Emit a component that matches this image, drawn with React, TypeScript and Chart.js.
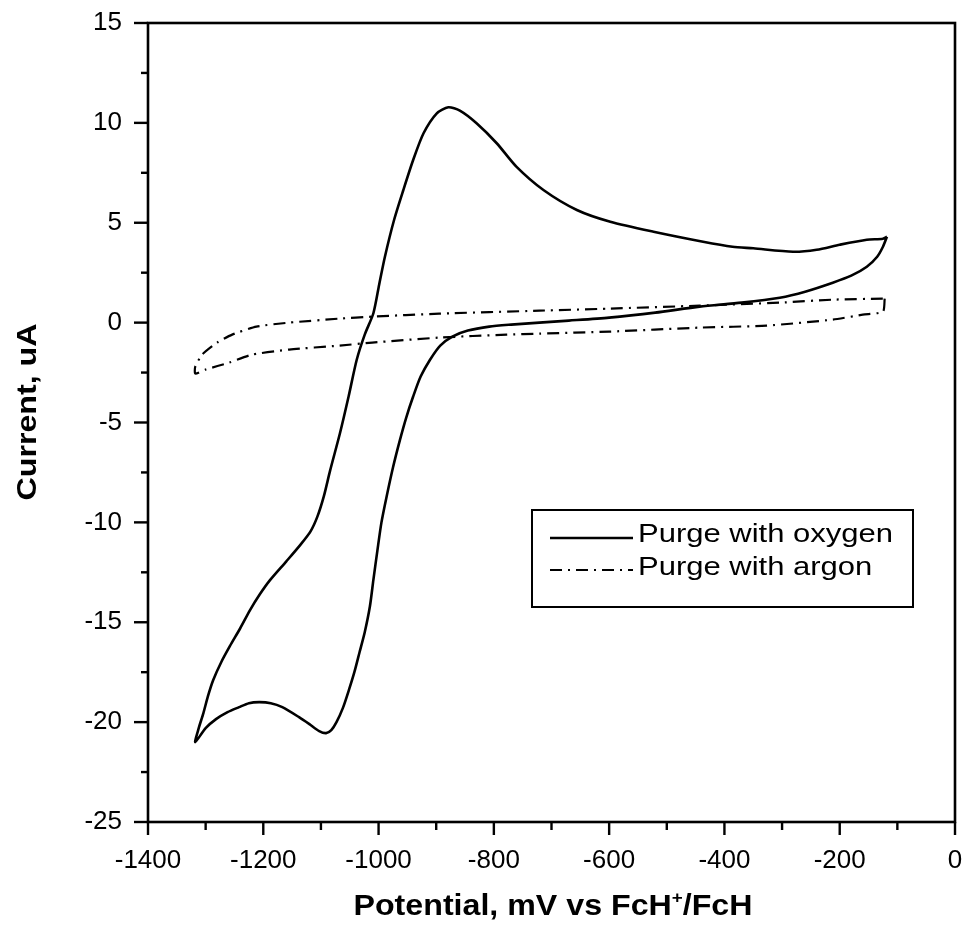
import React, { useEffect, useRef } from "react";
import { Chart, registerables } from "chart.js";

Chart.register(...registerables);

// ---- Data ----
const oxygenPotential = [
  -118, -125, -135, -153, -180, -212, -260, -304, -370, -443, -520, -600, -670, -721, -770, -808,
  -845, -872, -893, -911, -927, -940, -952, -963, -975, -986, -995, -1002, -1009, -1015, -1024,
  -1033, -1042, -1051, -1062, -1073, -1082, -1091, -1103, -1120, -1138, -1167, -1187, -1207,
  -1225, -1242, -1262, -1282, -1300, -1318,
  -1312, -1304, -1296, -1287, -1273, -1258, -1240, -1223, -1206, -1188, -1160, -1135, -1118,
  -1106, -1095, -1084, -1067, -1052, -1038, -1024, -1009, -999, -989, -973, -957, -940, -922,
  -899, -879, -859, -830, -795, -761, -714, -656, -598, -523, -437, -386, -350, -281, -240,
  -200, -153, -125, -118,
];
const oxygenCurrent = [
  4.3, 3.8, 3.3, 2.8, 2.35, 2.0, 1.55, 1.25, 1.0, 0.8, 0.5, 0.25, 0.1, 0.0, -0.1, -0.2,
  -0.4, -0.7, -1.15, -1.87, -2.7, -3.7, -4.75, -5.88, -7.25, -8.7, -10.0, -11.4, -12.88, -14.2, -15.5,
  -16.5, -17.5, -18.35, -19.3, -20.0, -20.4, -20.55, -20.45, -20.1, -19.75, -19.25, -19.05, -19.0,
  -19.05, -19.25, -19.5, -19.85, -20.3, -21.0,
  -20.3, -19.56, -18.7, -17.9, -17.0, -16.2, -15.3, -14.39, -13.6, -12.88, -11.95, -11.1, -10.45,
  -9.7, -8.7, -7.4, -5.54, -3.7, -1.87, -0.6, 0.47, 1.9, 3.3, 5.15, 6.64, 8.14, 9.48,
  10.48, 10.78, 10.61, 9.98, 8.98, 7.81, 6.64, 5.64, 5.05, 4.55, 4.05, 3.8, 3.72, 3.55, 3.65,
  3.9, 4.15, 4.2, 4.3,
];

const argonPotential = [
  -122, -125, -160, -212, -327, -443, -600, -721, -778, -895, -1011, -1068, -1155, -1219, -1259,
  -1300, -1318, -1318, -1306, -1280, -1254, -1212, -1155, -1068, -1011, -895, -721, -600, -443,
  -304, -212, -125,
];
const argonCurrent = [
  1.2, 0.55, 0.4, 0.15, -0.15, -0.25, -0.45, -0.55, -0.6, -0.75, -1.0, -1.15, -1.35, -1.6, -2.0,
  -2.35, -2.55, -2.2, -1.6, -1.0, -0.6, -0.2, 0.0, 0.2, 0.3, 0.45, 0.6, 0.7, 0.85,
  1.0, 1.15, 1.2,
];

const xTicks = [-1400, -1200, -1000, -800, -600, -400, -200, 0];
const yTicks = [-25, -20, -15, -10, -5, 0, 5, 10, 15];
const xMinorStep = 100;
const yMinorStep = 2.5;

const seriesLabels = ["Purge with oxygen", "Purge with argon"];
const xTitleMain = "Potential, mV vs FcH";
const xTitleSup = "+";
const xTitleTail = "/FcH";
const yTitle = "Current, uA";

const FONT = '"Liberation Sans", Arial, Helvetica, sans-serif';

const decorPlugin = {
  id: "decor",
  afterDraw(chart: any) {
    const { ctx, chartArea: a, scales } = chart;
    const xs = scales.x;
    const ys = scales.y;
    ctx.save();
    ctx.strokeStyle = "#000";
    ctx.fillStyle = "#000";
    ctx.setLineDash([]);

    // frame
    ctx.lineWidth = 2.6;
    ctx.strokeRect(a.left, a.top, a.right - a.left, a.bottom - a.top);

    // ticks (major + minor), outside
    ctx.lineWidth = 2.4;
    const xMin = xs.min, xMax = xs.max;
    for (let v = xMin; v <= xMax + 1e-6; v += xMinorStep) {
      const px = xs.getPixelForValue(v);
      const major = xTicks.some((t) => Math.abs(t - v) < 1e-6);
      ctx.beginPath();
      ctx.moveTo(px, a.bottom);
      ctx.lineTo(px, a.bottom + (major ? 13 : 8));
      ctx.stroke();
    }
    const yMin = ys.min, yMax = ys.max;
    for (let v = yMin; v <= yMax + 1e-6; v += yMinorStep) {
      const py = ys.getPixelForValue(v);
      const major = yTicks.some((t) => Math.abs(t - v) < 1e-6);
      ctx.beginPath();
      ctx.moveTo(a.left, py);
      ctx.lineTo(a.left - (major ? 14 : 7), py);
      ctx.stroke();
    }

    // legend box
    const lx0 = 532, ly0 = 510, lx1 = 913, ly1 = 607;
    ctx.fillStyle = "#fff";
    ctx.fillRect(lx0, ly0, lx1 - lx0, ly1 - ly0);
    ctx.lineWidth = 2;
    ctx.strokeRect(lx0, ly0, lx1 - lx0, ly1 - ly0);
    ctx.fillStyle = "#000";
    ctx.font = `25px ${FONT}`;
    const refW = ctx.measureText(seriesLabels[0]).width;
    const sx = 255 / refW;
    const rows = [
      { lineY: 538, baseY: 542 },
      { lineY: 570, baseY: 575 },
    ];
    chart.data.datasets.forEach((ds: any, i: number) => {
      const r = rows[i];
      ctx.save();
      ctx.lineWidth = i === 0 ? 2.6 : 2.2;
      ctx.setLineDash(ds.borderDash || []);
      ctx.beginPath();
      ctx.moveTo(550, r.lineY);
      ctx.lineTo(633, r.lineY);
      ctx.stroke();
      ctx.restore();
      ctx.save();
      ctx.translate(638, r.baseY);
      ctx.scale(sx, 1);
      ctx.textAlign = "left";
      ctx.textBaseline = "alphabetic";
      ctx.font = `25px ${FONT}`;
      ctx.fillText(ds.label, 0, 0);
      ctx.restore();
    });

    // x title
    ctx.save();
    const bigF = `bold 29px ${FONT}`;
    const supF = `bold 17px ${FONT}`;
    ctx.font = bigF;
    const w1 = ctx.measureText(xTitleMain).width;
    const w3 = ctx.measureText(xTitleTail).width;
    ctx.font = supF;
    const w2 = ctx.measureText(xTitleSup).width;
    const total = w1 + w2 + w3;
    const targetW = 399;
    const s = targetW / total;
    ctx.translate(553 - targetW / 2, 915);
    ctx.scale(s, 1);
    ctx.textAlign = "left";
    ctx.textBaseline = "alphabetic";
    ctx.font = bigF;
    ctx.fillText(xTitleMain, 0, 0);
    ctx.font = supF;
    ctx.fillText(xTitleSup, w1, -12);
    ctx.font = bigF;
    ctx.fillText(xTitleTail, w1 + w2, 0);
    ctx.restore();

    // y title
    ctx.save();
    ctx.font = `bold 27px ${FONT}`;
    const yw = ctx.measureText(yTitle).width;
    ctx.translate(36, 412);
    ctx.rotate(-Math.PI / 2);
    ctx.scale(177 / yw, 1);
    ctx.textAlign = "center";
    ctx.textBaseline = "alphabetic";
    ctx.fillText(yTitle, 0, 0);
    ctx.restore();

    ctx.restore();
  },
};

export default function App() {
  const canvasRef = useRef<HTMLCanvasElement | null>(null);

  useEffect(() => {
    const canvas = canvasRef.current;
    if (!canvas) return;
    const chart = new Chart(canvas, {
      type: "scatter",
      data: {
        datasets: [
          {
            label: seriesLabels[0],
            data: oxygenPotential.map((x, i) => ({ x, y: oxygenCurrent[i] })),
            showLine: true,
            borderColor: "#000",
            backgroundColor: "#000",
            borderWidth: 2.6,
            pointRadius: 0,
            tension: 0.25,
            fill: false,
          },
          {
            label: seriesLabels[1],
            data: argonPotential.map((x, i) => ({ x, y: argonCurrent[i] })),
            showLine: true,
            borderColor: "#000",
            backgroundColor: "#000",
            borderWidth: 2.2,
            borderDash: [12, 6, 2, 6],
            pointRadius: 0,
            tension: 0.2,
            fill: false,
          },
        ],
      },
      options: {
        responsive: false,
        animation: false,
        devicePixelRatio: 1,
        layout: { padding: { top: 23, right: 13, left: 0, bottom: 0 } },
        plugins: {
          legend: { display: false },
          tooltip: { enabled: false },
        },
        scales: {
          x: {
            type: "linear",
            min: -1400,
            max: 0,
            afterBuildTicks: (scale: any) => {
              scale.ticks = xTicks.map((v) => ({ value: v }));
            },
            afterFit: (scale: any) => {
              scale.height = 109;
              scale.paddingLeft = 0;
              scale.paddingRight = 0;
              scale.paddingTop = 0;
              scale.paddingBottom = 0;
            },
            grid: { display: false },
            border: { display: false },
            ticks: {
              color: "#000",
              font: { family: FONT, size: 26 },
              padding: 15,
              maxRotation: 0,
              minRotation: 0,
              autoSkip: false,
              callback: (v: any) => String(v),
            },
          },
          y: {
            type: "linear",
            min: -25,
            max: 15,
            afterBuildTicks: (scale: any) => {
              scale.ticks = yTicks.map((v) => ({ value: v }));
            },
            afterFit: (scale: any) => {
              scale.width = 148;
              scale.paddingLeft = 0;
              scale.paddingRight = 0;
              scale.paddingTop = 0;
              scale.paddingBottom = 0;
            },
            grid: { display: false },
            border: { display: false },
            ticks: {
              color: "#000",
              font: { family: FONT, size: 26 },
              padding: 18,
              autoSkip: false,
              callback: (v: any) => String(v),
            },
          },
        },
      },
      plugins: [decorPlugin],
    } as any);
    return () => chart.destroy();
  }, []);

  return (
    <canvas
      ref={canvasRef}
      width={968}
      height={931}
      style={{ position: "absolute", left: 0, top: 0, display: "block", background: "#fff" }}
    />
  );
}
